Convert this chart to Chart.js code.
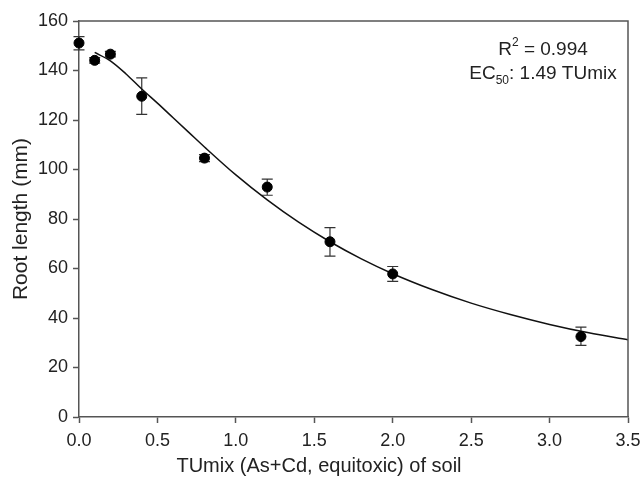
<!DOCTYPE html>
<html>
<head>
<meta charset="utf-8">
<script src="https://cdn.jsdelivr.net/npm/chart.js@4"></script>
<style>
  html, body { margin: 0; padding: 0; background: #fff; }
  #wrap { width: 643px; height: 477px; }
</style>
</head>
<body>
<div id="wrap"><canvas id="chart" width="643" height="477"></canvas></div>
<script>
// Measured data (mean root length, mm) and error bars
const doses = [0, 0.1, 0.2, 0.4, 0.8, 1.2, 1.6, 2.0, 3.2];
const rootLength = [151.1, 144.1, 146.6, 129.6, 104.6, 92.9, 70.8, 57.8, 32.5];
const errLow = [148.3, 143.0, 145.5, 122.3, 103.2, 89.6, 65.0, 54.8, 28.9];
const errHigh = [153.7, 145.2, 147.7, 137.0, 106.0, 96.1, 76.5, 60.8, 36.3];

// Fitted curve
const fitX = [0.1, 0.2, 0.3, 0.4, 0.5, 0.6, 0.7, 0.8, 1.0, 1.2, 1.4, 1.6, 1.8, 2.0, 2.25, 2.5, 2.75, 3.0, 3.25, 3.5];
const fitY = [147.3, 143.9, 138.6, 132.5, 126.8, 120.9, 115.0, 109.1, 97.8, 87.7, 78.7, 70.8, 63.9, 57.9, 51.5, 46.0, 41.4, 37.4, 34.0, 31.2];

const xTicks = [0, 0.5, 1.0, 1.5, 2.0, 2.5, 3.0, 3.5];
const yTicks = [0, 20, 40, 60, 80, 100, 120, 140, 160];

const FONT = 'Liberation Sans, Arial, sans-serif';
const AXIS_COLOR = '#555';

// Error bars, top/right frame and the text annotations
const extrasPlugin = {
  id: 'extras',
  beforeDatasetsDraw(chart) {
    const ctx = chart.ctx;
    const xs = chart.scales.x;
    const ys = chart.scales.y;
    ctx.save();
    ctx.strokeStyle = '#333';
    ctx.lineWidth = 1.2;
    doses.forEach((d, i) => {
      const px = xs.getPixelForValue(d);
      const top = ys.getPixelForValue(errHigh[i]);
      const bot = ys.getPixelForValue(errLow[i]);
      ctx.beginPath();
      ctx.moveTo(px, top);
      ctx.lineTo(px, bot);
      ctx.moveTo(px - 5.5, top);
      ctx.lineTo(px + 5.5, top);
      ctx.moveTo(px - 5.5, bot);
      ctx.lineTo(px + 5.5, bot);
      ctx.stroke();
    });
    ctx.restore();
  },
  afterDraw(chart) {
    const ctx = chart.ctx;
    const area = chart.chartArea;
    ctx.save();
    ctx.strokeStyle = AXIS_COLOR;
    ctx.lineWidth = 1.5;
    ctx.beginPath();
    ctx.moveTo(area.left, area.top);
    ctx.lineTo(area.right, area.top);
    ctx.lineTo(area.right, area.bottom);
    ctx.stroke();

    ctx.fillStyle = '#222';
    ctx.textBaseline = 'alphabetic';
    ctx.textAlign = 'left';
    const big = '19px ' + FONT;
    const small = '12px ' + FONT;

    // R^2 = 0.994
    const cx = 543;
    const rest = ' = 0.994';
    ctx.font = small;
    const supW = ctx.measureText('2').width;
    ctx.font = big;
    const w1 = ctx.measureText('R').width + supW + ctx.measureText(rest).width;
    let x = cx - w1 / 2;
    ctx.fillText('R', x, 55);
    x += ctx.measureText('R').width;
    ctx.font = small;
    ctx.fillText('2', x, 46);
    x += supW;
    ctx.font = big;
    ctx.fillText(rest, x, 55);

    // EC50: 1.49 TUmix
    const rest2 = ': 1.49 TUmix';
    ctx.font = small;
    const subW = ctx.measureText('50').width;
    ctx.font = big;
    const w2 = ctx.measureText('EC').width + subW + ctx.measureText(rest2).width;
    x = cx - w2 / 2;
    ctx.fillText('EC', x, 79);
    x += ctx.measureText('EC').width;
    ctx.font = small;
    ctx.fillText('50', x, 84);
    x += subW;
    ctx.font = big;
    ctx.fillText(rest2, x, 79);

    // x axis title
    ctx.font = '20px ' + FONT;
    ctx.textAlign = 'center';
    ctx.fillText('TUmix (As+Cd, equitoxic) of soil', 319, 472);
    ctx.restore();
  }
};

const ctx = document.getElementById('chart').getContext('2d');
new Chart(ctx, {
  type: 'scatter',
  data: {
    datasets: [
      {
        label: 'Fit',
        data: fitX.map((v, i) => ({ x: v, y: fitY[i] })),
        showLine: true,
        borderColor: '#111',
        borderWidth: 1.5,
        pointRadius: 0,
        cubicInterpolationMode: 'monotone',
        order: 2
      },
      {
        label: 'Root length',
        data: doses.map((v, i) => ({ x: v, y: rootLength[i] })),
        backgroundColor: '#000',
        borderColor: '#000',
        borderWidth: 1,
        pointRadius: 5,
        pointHoverRadius: 5,
        clip: false,
        order: 1
      }
    ]
  },
  plugins: [extrasPlugin],
  options: {
    responsive: false,
    animation: false,
    layout: { padding: { left: 0, top: 21, right: 15, bottom: 0 } },
    plugins: {
      legend: { display: false },
      tooltip: { enabled: false }
    },
    scales: {
      x: {
        type: 'linear',
        min: 0,
        max: 3.5,
        afterFit(scale) {
          scale.height = 60;
          scale.paddingLeft = 0;
          scale.paddingRight = 0;
        },
        afterBuildTicks(scale) { scale.ticks = xTicks.map(v => ({ value: v })); },
        grid: { drawOnChartArea: false, tickLength: 6, tickColor: AXIS_COLOR, tickWidth: 1.5 },
        border: { color: AXIS_COLOR, width: 1.5 },
        ticks: {
          color: '#222',
          font: { family: FONT, size: 18 },
          padding: 7,
          maxRotation: 0,
          callback: v => v.toFixed(1)
        }
      },
      y: {
        type: 'linear',
        min: 0,
        max: 160,
        afterFit(scale) {
          scale.width = 79;
          scale.paddingTop = 0;
          scale.paddingBottom = 0;
        },
        afterBuildTicks(scale) { scale.ticks = yTicks.map(v => ({ value: v })); },
        grid: { drawOnChartArea: false, tickLength: 6, tickColor: AXIS_COLOR, tickWidth: 1.5 },
        border: { color: AXIS_COLOR, width: 1.5 },
        ticks: {
          color: '#222',
          font: { family: FONT, size: 18 },
          padding: 5
        },
        title: {
          display: true,
          text: 'Root length (mm)',
          color: '#222',
          font: { family: FONT, size: 21 },
          padding: { top: 9, bottom: 0 }
        }
      }
    }
  }
});
</script>
</body>
</html>
